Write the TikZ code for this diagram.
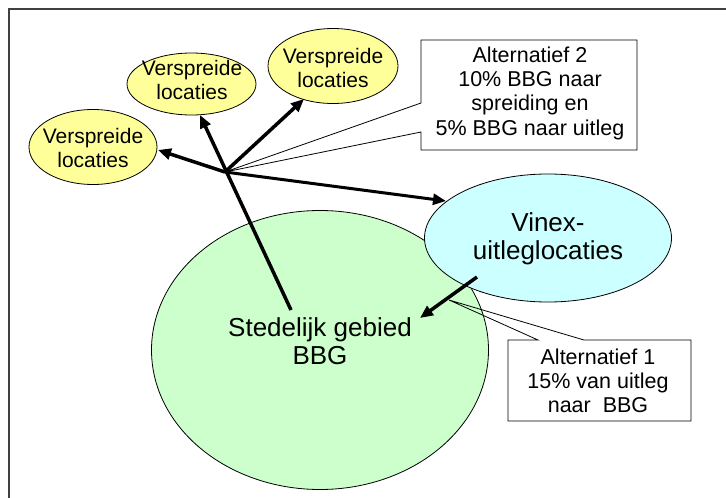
\documentclass[tikz,border=0pt]{standalone}
\usepackage{fontspec}
\setmainfont{Liberation Sans}
\usetikzlibrary{shapes.geometric,arrows.meta}
\definecolor{yel}{HTML}{FFFF99}
\definecolor{cya}{HTML}{CCFFFF}
\definecolor{grn}{HTML}{CCFFCC}
\definecolor{frm}{HTML}{404040}
\begin{document}
\begin{tikzpicture}[x=1pt,y=-1pt,
  ell/.style={ellipse,draw=black,line width=0.8pt,inner sep=0pt},
  smalltxt/.style={align=center,font=\fontsize{21}{24}\selectfont,inner sep=0pt},
  bigtxt/.style={align=center,font=\fontsize{26}{28}\selectfont,inner sep=0pt},
  alttxt/.style={align=center,font=\fontsize{21.5}{24.3}\selectfont,inner sep=0pt},
  arr/.style={line width=3.5pt,-{Triangle[length=13pt,width=11pt]}},
  callout/.style={draw=black,line width=0.8pt}]
\useasboundingbox (0,0) rectangle (726,498);
\clip (0,0) rectangle (726,498);
% frame
\draw[frm,line width=2pt] (8.5,9) rectangle (740,510);
% callout boxes (fill)
\fill[white] (421,40) rectangle (637,150);
\fill[white] (508,340) rectangle (691,421);
% ellipses
\node[ell,fill=grn,minimum width=337pt,minimum height=279pt] (sg) at (320,350) {};
\node[ell,fill=cya,minimum width=247pt,minimum height=128pt] (vx) at (548,238) {};
\node[ell,fill=yel,minimum width=128pt,minimum height=75pt] (v1) at (93,147) {};
\node[ell,fill=yel,minimum width=129pt,minimum height=62pt] (v2) at (191.5,84) {};
\node[ell,fill=yel,minimum width=130pt,minimum height=75pt] (v3) at (333,66) {};
% texts
\node[bigtxt] (sgt) at (320,341) {Stedelijk gebied\\BBG};
\node[bigtxt] (vxt) at (548,239) {Vinex-\\uitleglocaties};
\node[smalltxt] (v1t) at (93,148) {Verspreide\\locaties};
\node[smalltxt] (v2t) at (192,79.5) {Verspreide\\locaties};
\node[smalltxt] (v3t) at (333,67.5) {Verspreide\\locaties};
\node[alttxt] (a2t) at (530,93) {Alternatief 2\\10\% BBG naar\\spreiding en\\5\% BBG naar uitleg};
\node[alttxt] (a1t) at (598,381) {Alternatief 1\\15\% van uitleg\\naar\ \ BBG};
% coordinates
\coordinate (hub) at (225,172);
\coordinate (s0) at (291,310);
\coordinate (t1) at (158,150);
\coordinate (t2) at (200,115);
\coordinate (t3) at (304,99);
\coordinate (t4) at (446,201);
\coordinate (u0) at (477,277);
\coordinate (u1) at (420,318);
\coordinate (p2) at (449,300);
% callout outlines
\draw[callout] (421,103) -- (hub) -- (421,132) -- (421,150) -- (637,150) -- (637,40) -- (421,40) -- cycle;
\draw[callout] (538,340) -- (p2) -- (584,340) -- (691,340) -- (691,421) -- (508,421) -- (508,340) -- cycle;
% arrows
\draw[arr] (s0) -- (t2);
\draw[arr] (hub) -- (t1);
\draw[arr] (hub) -- (t3);
\draw[arr,line width=3pt] (hub) -- (t4);
\draw[arr] (u0) -- (u1);
\end{tikzpicture}
\end{document}
